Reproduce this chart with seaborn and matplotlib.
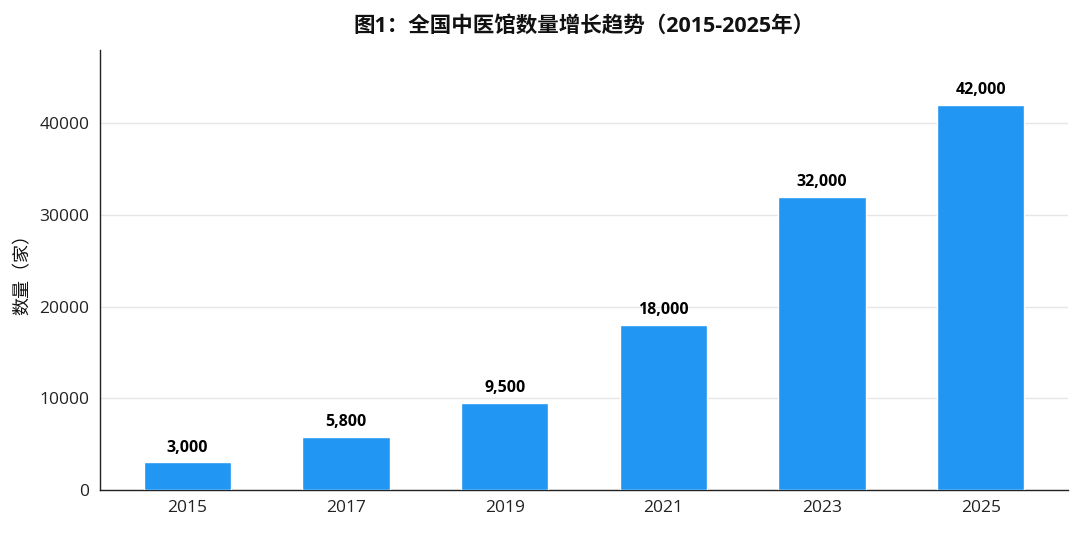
import pandas as pd
import matplotlib
matplotlib.use("Agg")
import matplotlib.pyplot as plt
import seaborn as sns

years = ["2015", "2017", "2019", "2021", "2023", "2025"]
counts = [3000, 5800, 9500, 18000, 32000, 42000]

df = pd.DataFrame({"年份": years, "数量": counts})

sns.set_style("white")
plt.rcParams['font.family'] = ['Open Sans', 'Noto Sans CJK SC', 'DejaVu Sans']
plt.rcParams['axes.unicode_minus'] = False
plt.rcParams['text.color'] = "#111111"
plt.rcParams['axes.labelcolor'] = "#111111"
plt.rcParams['xtick.color'] = "#222222"
plt.rcParams['ytick.color'] = "#222222"

fig = plt.figure(figsize=(10.8, 5.33), dpi=100)
ax = fig.add_axes([0.0926, 0.0807, 0.8964, 0.8253])

sns.barplot(data=df, x="年份", y="数量", color="#2196F3", width=0.55,
            saturation=1, ax=ax, zorder=3)

for i, v in enumerate(counts):
    ax.annotate(f"{v:,}", (i, v), xytext=(0, 5), textcoords="offset points",
                ha="center", va="bottom", fontsize=11.5, fontweight="bold",
                color="black")

ax.set_ylim(0, 48000)
ax.set_xlim(-0.55, 5.55)
ax.set_yticks([0, 10000, 20000, 30000, 40000])
ax.yaxis.grid(True, color="#e6e6e6", linewidth=1, zorder=0)
ax.set_axisbelow(True)
sns.despine(ax=ax)
for s in ["left", "bottom"]:
    ax.spines[s].set_color("#222222")
    ax.spines[s].set_linewidth(1)
ax.tick_params(axis="both", length=4, width=1, color="#222222",
               labelsize=12.5, direction="out")
ax.set_xlabel("")
ax.set_ylabel("数量（家）", fontsize=13, labelpad=6)
ax.set_title("图1：全国中医馆数量增长趋势（2015-2025年）", fontsize=15.5,
             fontweight="bold", pad=13)

fig.savefig("out.png", dpi=100)
